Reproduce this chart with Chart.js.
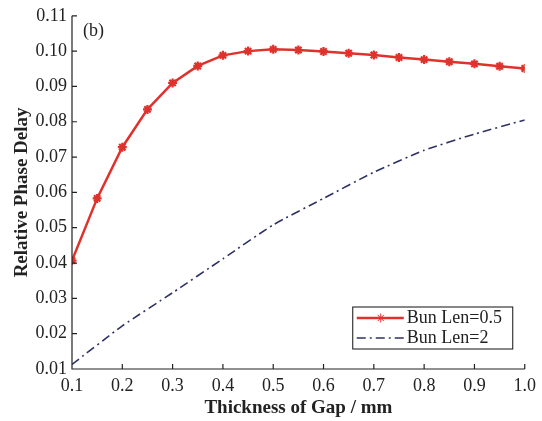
<!DOCTYPE html>
<html>
<head>
<meta charset="utf-8">
<script src="https://cdn.jsdelivr.net/npm/chart.js@4.4.1/dist/chart.umd.min.js"></script>
<style>
  html, body { margin: 0; padding: 0; background: #fff; }
  #wrap { width: 542px; height: 421px; position: relative; }
</style>
</head>
<body>
<div id="wrap"><canvas id="c"></canvas></div>
<script>
'use strict';

// ---------- data ----------
const gapRed = [0.1, 0.15, 0.2, 0.25, 0.3, 0.35, 0.4, 0.45, 0.5, 0.55, 0.6, 0.65, 0.7, 0.75, 0.8, 0.85, 0.9, 0.95, 1.0];
const delayLen05 = [0.0407, 0.0583, 0.0728, 0.0835, 0.0910, 0.0958, 0.0988, 0.1000, 0.1005, 0.1003, 0.0999, 0.0994, 0.0989, 0.0982, 0.0976, 0.0970, 0.0964, 0.0957, 0.0951];
const gapBlue = [0.1, 0.2, 0.3, 0.4, 0.5, 0.6, 0.7, 0.8, 0.9, 1.0];
const delayLen2 = [0.0113, 0.0222, 0.0316, 0.0412, 0.0508, 0.0583, 0.0657, 0.0719, 0.0765, 0.0805];
const xTickVals = [0.1, 0.2, 0.3, 0.4, 0.5, 0.6, 0.7, 0.8, 0.9, 1.0];
const yTickVals = [0.01, 0.02, 0.03, 0.04, 0.05, 0.06, 0.07, 0.08, 0.09, 0.10, 0.11];
const seriesNames = ['Bun Len=0.5', 'Bun Len=2'];
const xTitle = 'Thickness of Gap / mm';
const yTitle = 'Relative Phase Delay';
const panelLabel = '(b)';

const SERIF = "'Liberation Serif', 'Times New Roman', serif";
const RED = '#e0322c';
const NAVY = '#2e3262';
const AXIS = '#222';

// inward tick marks, "(b)" label and the boxed legend
const extras = {
  id: 'extras',
  afterDraw(chart) {
    const { ctx, chartArea: a, scales: { x, y } } = chart;
    ctx.save();
    ctx.strokeStyle = AXIS;
    ctx.lineWidth = 1.2;
    ctx.beginPath();
    ctx.moveTo(a.left, a.top);
    ctx.lineTo(a.left, a.bottom);
    ctx.lineTo(a.right, a.bottom);
    x.ticks.forEach((t) => {
      const px = x.getPixelForValue(t.value);
      ctx.moveTo(px, a.bottom);
      ctx.lineTo(px, a.bottom - 5);
    });
    y.ticks.forEach((t) => {
      const py = y.getPixelForValue(t.value);
      ctx.moveTo(a.left, py);
      ctx.lineTo(a.left + 5, py);
    });
    ctx.stroke();

    ctx.fillStyle = AXIS;
    ctx.font = '18px ' + SERIF;
    ctx.textBaseline = 'middle';
    ctx.fillText(panelLabel, a.left + 11, a.top + 15);

    // legend box
    const bx = a.right - 172, by = a.bottom - 62, bw = 160, bh = 42;
    ctx.fillStyle = '#fff';
    ctx.fillRect(bx, by, bw, bh);
    ctx.strokeStyle = '#111';
    ctx.lineWidth = 1;
    ctx.strokeRect(bx, by, bw, bh);
    const rows = [by + 11, by + 31];
    chart.data.datasets.forEach((ds, i) => {
      ctx.save();
      ctx.strokeStyle = ds.borderColor;
      ctx.lineWidth = ds.borderWidth;
      ctx.setLineDash(ds.borderDash || []);
      ctx.beginPath();
      ctx.moveTo(bx + 4, rows[i]);
      ctx.lineTo(bx + 51, rows[i]);
      ctx.stroke();
      ctx.restore();
      if (ds.pointRadius) {
        ctx.strokeStyle = ds.pointBorderColor;
        ctx.fillStyle = ds.pointBorderColor;
        Chart.helpers.drawPoint(ctx, {
          pointStyle: ds.pointStyle, radius: ds.pointRadius, borderWidth: ds.pointBorderWidth,
        }, bx + 28, rows[i]);
      }
      ctx.fillStyle = AXIS;
      ctx.font = '18px ' + SERIF;
      ctx.fillText(ds.label, bx + 54, rows[i]);
    });
    ctx.restore();
  },
};

new Chart(document.getElementById('c').getContext('2d'), {
  type: 'line',
  data: {
    datasets: [
      {
        label: seriesNames[0],
        data: gapRed.map((g, i) => ({ x: g, y: delayLen05[i] })),
        borderColor: RED, backgroundColor: RED, borderWidth: 2.5,
        pointStyle: 'star', pointRadius: 4.5, pointBorderWidth: 2.2,
        pointBorderColor: RED, tension: 0,
      },
      {
        label: seriesNames[1],
        data: gapBlue.map((g, i) => ({ x: g, y: delayLen2[i] })),
        borderColor: NAVY, backgroundColor: NAVY, borderWidth: 1.6,
        borderDash: [9, 4, 2, 4], pointRadius: 0, tension: 0.2,
      },
    ],
  },
  options: {
    responsive: true, maintainAspectRatio: false, animation: false,
    layout: { padding: { left: 0, right: 16, top: 14, bottom: 0 } },
    plugins: { legend: { display: false }, tooltip: { enabled: false } },
    scales: {
      x: {
        type: 'linear', min: 0.1, max: 1.0,
        afterBuildTicks: (s) => { s.ticks = xTickVals.map((v) => ({ value: v })); },
        afterFit: (s) => { s.height = 52; },
        grid: { display: false, drawTicks: false }, border: { display: false },
        ticks: { color: AXIS, padding: 6, maxRotation: 0, font: { family: SERIF, size: 18 },
          callback: (v) => Number(v).toFixed(1) },
        title: { display: true, text: xTitle, color: AXIS, padding: { top: 0, bottom: 2 },
          font: { family: SERIF, size: 19, weight: 'bold' } },
      },
      y: {
        type: 'linear', min: 0.01, max: 0.11,
        afterBuildTicks: (s) => { s.ticks = yTickVals.map((v) => ({ value: v })); },
        afterFit: (s) => { s.width = 72; },
        grid: { display: false, drawTicks: false }, border: { display: false },
        ticks: { color: AXIS, padding: 5, font: { family: SERIF, size: 18 },
          callback: (v) => Number(v).toFixed(2) },
        title: { display: true, text: yTitle, color: AXIS, padding: { top: 11, bottom: 0 },
          font: { family: SERIF, size: 19, weight: 'bold' } },
      },
    },
  },
  plugins: [extras],
});
</script>
</body>
</html>
